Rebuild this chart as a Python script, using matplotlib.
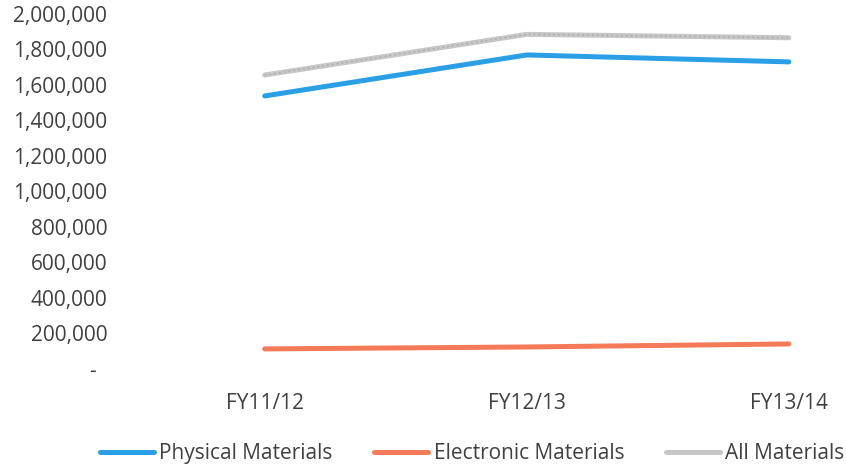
import matplotlib.pyplot as plt
import matplotlib.ticker as mticker
import numpy as np

years = ["FY11/12", "FY12/13", "FY13/14"]
physical = [1538000, 1769000, 1730000]
electronic = [113000, 124000, 141000]
all_materials = [1656000, 1885000, 1866000]

y_ticks = list(range(0, 2000001, 200000))

#-------------------------------------------------------------------------------

def fmt_count(v, pos):
  """ Accounting style: thousands separators, dash for zero. """
  if v == 0:
    return "-  "
  return "{:,.0f}".format(v)

def main():
  plt.rcParams['font.family'] = ['Open Sans', 'DejaVu Sans']
  fig = plt.figure(figsize=(8.46, 4.65), dpi=100)
  ax = fig.add_axes([0.158, 0.2065, 0.842, 0.7635])

  x = np.arange(len(years))
  ax.plot(x, physical, color="#2a9fe6", lw=3.6, solid_capstyle="round",
          label="Physical Materials")
  ax.plot(x, electronic, color="#f47a58", lw=3.6, solid_capstyle="round",
          label="Electronic Materials")
  ax.plot(x, all_materials, color="#c6c6c6", lw=3.6, solid_capstyle="round",
          label="All Materials")
  # speckled look on the grey line
  ax.plot(x, all_materials, color="#8f8f8f", lw=1.0, ls=(0, (1, 2.5)), alpha=0.6)

  ax.set_xlim(-0.5, 2.218)
  ax.set_ylim(0, 2000000)
  ax.set_xticks(x)
  ax.set_xticklabels(years)
  ax.set_yticks(y_ticks)
  ax.yaxis.set_major_formatter(mticker.FuncFormatter(fmt_count))

  ax.tick_params(axis="y", length=0, pad=19, labelsize=15, labelcolor="#404040")
  ax.tick_params(axis="x", length=0, pad=17, labelsize=15, labelcolor="#404040")
  for side in ["top", "right", "left", "bottom"]:
    ax.spines[side].set_visible(False)

  fig.legend(loc="center", bbox_to_anchor=(0.558, 0.024), ncol=3, frameon=False,
             fontsize=15, handlelength=2.6, handletextpad=0.25,
             columnspacing=2.0, labelcolor="#404040")

  fig.savefig("out.png", dpi=100)
  plt.close(fig)

if __name__ == "__main__":
  main()
